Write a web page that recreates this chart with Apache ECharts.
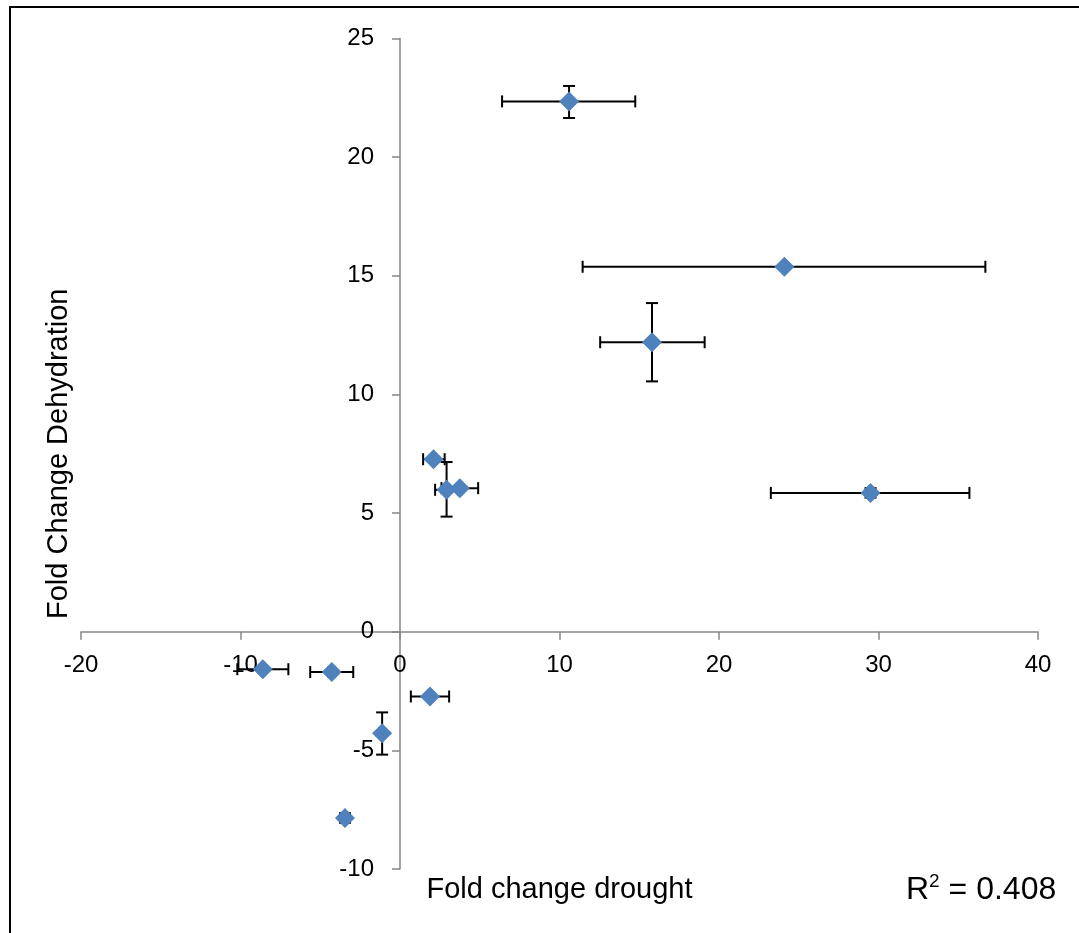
<!DOCTYPE html>
<html>
<head>
<meta charset="utf-8">
<script src="https://cdn.jsdelivr.net/npm/echarts@6/dist/echarts.min.js"></script>
<style>
  html, body { margin: 0; padding: 0; background: #ffffff; }
  #chart { width: 1079px; height: 933px; }
</style>
</head>
<body>
<div id="chart"></div>
<script>
// Fold change of each gene under drought (x) and dehydration (y), with error ranges
const droughtFC     = [10.6, 24.1, 15.8, 29.5, 2.1, 2.92, 3.75, -8.6, -4.28, 1.88, -1.12, -3.45];
const droughtLow    = [6.4, 11.45, 12.55, 23.25, 1.45, 2.2, 2.6, -10.2, -5.63, 0.68, -1.3, -3.65];
const droughtHigh   = [14.75, 36.7, 19.1, 35.7, 2.8, 3.65, 4.9, -7.0, -2.93, 3.08, -0.95, -3.25];
const dehydrationFC   = [22.35, 15.38, 12.2, 5.85, 7.27, 5.98, 6.05, -1.58, -1.7, -2.73, -4.28, -7.85];
const dehydrationLow  = [21.65, 15.38, 10.55, 5.65, 7.27, 4.85, 6.05, -1.58, -1.7, -2.73, -5.18, -8.05];
const dehydrationHigh = [23.0, 15.38, 13.85, 6.05, 7.27, 7.15, 6.05, -1.58, -1.7, -2.73, -3.4, -7.65];
const rSquared = '0.408';

const X_MIN = -20, X_MAX = 40, X_STEP = 10;
const Y_MIN = -10, Y_MAX = 25, Y_STEP = 5;

const FONT = '"Liberation Sans", Arial, sans-serif';
const AXIS_GRAY = '#868686';
const CAP = 6;

// Plot area in pixels
const GRID = { left: 81, right: 41, top: 38.5, bottom: 64 };
const W = 1079, H = 933;
const plotW = W - GRID.left - GRID.right;
const plotH = H - GRID.top - GRID.bottom;
// Shift each axis from the grid edge onto the other axis' zero line
const yAxisShift = -plotW * (0 - X_MIN) / (X_MAX - X_MIN);
const xAxisShift = -plotH * (0 - Y_MIN) / (Y_MAX - Y_MIN);

const points = droughtFC.map((x, i) => [x, dehydrationFC[i]]);
const errorRows = droughtFC.map((x, i) => [
  x, dehydrationFC[i], droughtLow[i], droughtHigh[i], dehydrationLow[i], dehydrationHigh[i]
]);

function renderErrorBars(params, api) {
  const c = api.coord([api.value(0), api.value(1)]);
  const xl = api.coord([api.value(2), api.value(1)]);
  const xh = api.coord([api.value(3), api.value(1)]);
  const yl = api.coord([api.value(0), api.value(4)]);
  const yh = api.coord([api.value(0), api.value(5)]);
  const style = { stroke: '#000000', lineWidth: 2 };
  const children = [];
  const seg = (x1, y1, x2, y2) => children.push({
    type: 'line', shape: { x1, y1, x2, y2 }, style
  });
  if (Math.abs(xh[0] - xl[0]) > 0.5) {
    seg(xl[0], c[1], xh[0], c[1]);
    seg(xl[0], c[1] - CAP, xl[0], c[1] + CAP);
    seg(xh[0], c[1] - CAP, xh[0], c[1] + CAP);
  }
  if (Math.abs(yh[1] - yl[1]) > 0.5) {
    seg(c[0], yl[1], c[0], yh[1]);
    seg(c[0] - CAP, yl[1], c[0] + CAP, yl[1]);
    seg(c[0] - CAP, yh[1], c[0] + CAP, yh[1]);
  }
  return { type: 'group', children };
}

const chart = echarts.init(document.getElementById('chart'), null, { renderer: 'canvas' });

chart.setOption({
  animation: false,
  backgroundColor: '#ffffff',
  textStyle: { fontFamily: FONT },
  grid: {
    left: GRID.left, right: GRID.right, top: GRID.top, bottom: GRID.bottom,
    containLabel: false,
    outerBoundsMode: 'none'
  },
  xAxis: {
    type: 'value',
    min: X_MIN, max: X_MAX, interval: X_STEP,
    position: 'bottom',
    offset: xAxisShift,
    name: 'Fold change drought',
    nameLocation: 'middle',
    nameGap: 244,
    nameTextStyle: { fontFamily: FONT, fontSize: 29, color: '#000000' },
    axisLine: { onZero: false, lineStyle: { color: AXIS_GRAY, width: 1.5 } },
    axisTick: { show: true, length: 8, inside: false, lineStyle: { color: AXIS_GRAY, width: 1.5 } },
    axisLabel: { fontFamily: FONT, fontSize: 24, color: '#000000', margin: 22 },
    splitLine: { show: false }
  },
  yAxis: {
    type: 'value',
    min: Y_MIN, max: Y_MAX, interval: Y_STEP,
    position: 'left',
    offset: yAxisShift,
    name: 'Fold Change Dehydration',
    nameLocation: 'middle',
    nameGap: 327,
    nameTextStyle: { fontFamily: FONT, fontSize: 29, color: '#000000' },
    axisLine: { onZero: false, lineStyle: { color: AXIS_GRAY, width: 1.5 } },
    axisTick: { show: true, length: 8, inside: false, lineStyle: { color: AXIS_GRAY, width: 1.5 } },
    axisLabel: { fontFamily: FONT, fontSize: 24, color: '#000000', margin: 26 },
    splitLine: { show: false }
  },
  graphic: [
    {
      type: 'rect',
      silent: true,
      shape: { x: 10, y: 7, width: 1200, height: 1100 },
      style: { fill: 'none', stroke: '#000000', lineWidth: 2 },
      z: 100
    },
    {
      type: 'text',
      left: 906,
      top: 872,
      style: {
        text: '{r|R}{s|2}{r| = ' + rSquared + '}',
        rich: {
          r: { fontFamily: FONT, fontSize: 32, fill: '#000000', lineHeight: 36 },
          s: { fontFamily: FONT, fontSize: 19, fill: '#000000', verticalAlign: 'top', lineHeight: 20 }
        }
      }
    }
  ],
  series: [
    {
      type: 'custom',
      name: 'error',
      renderItem: renderErrorBars,
      encode: { x: [0, 2, 3], y: [1, 4, 5] },
      data: errorRows,
      z: 1,
      silent: true
    },
    {
      type: 'scatter',
      name: 'genes',
      data: points,
      symbol: 'diamond',
      symbolSize: 20,
      itemStyle: { color: '#4F81BD', opacity: 1 },
      z: 3
    }
  ]
});
</script>
</body>
</html>
